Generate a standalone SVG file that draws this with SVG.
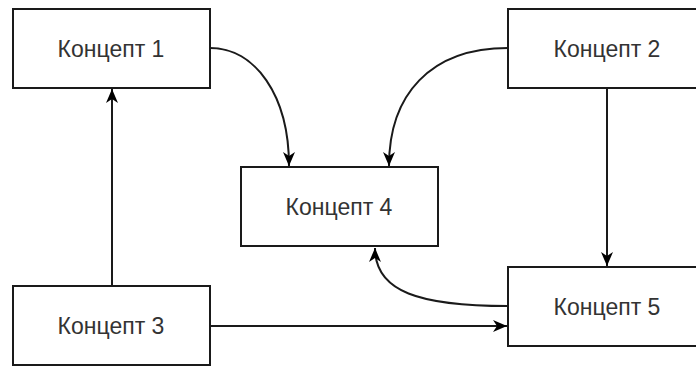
<svg xmlns="http://www.w3.org/2000/svg" width="696" height="367" viewBox="0 0 696 367">
  <style>
    .box { fill: #ffffff; stroke: #1a1a1a; stroke-width: 2; }
    .lbl { font-family: "Liberation Sans", Arial, sans-serif; font-size: 23px; fill: #333333; text-anchor: middle; }
    .edge { fill: none; stroke: #1a1a1a; stroke-width: 2; marker-end: url(#arrow); }
  </style>
  <defs>
    <marker id="arrow" viewBox="0 0 14 12" refX="14" refY="6" markerWidth="14" markerHeight="12" markerUnits="userSpaceOnUse" orient="auto">
      <path d="M0,0 L14,6 L0,12 L4,6 Z" fill="#000000"/>
    </marker>
  </defs>
  <rect width="696" height="367" fill="#ffffff"/>
  <g id="connectors">
    <path class="edge" d="M210,48 C255,48 289,95 289,166"/>
    <path class="edge" d="M508,48 C430,48 389,95 389,166"/>
    <path class="edge" d="M607,88 L607,266"/>
    <path class="edge" d="M508,306 C420,306 375,292 375,248"/>
    <path class="edge" d="M210,326 L507,326"/>
    <path class="edge" d="M112,286 L112,89"/>
  </g>
  <g id="node1">
    <rect class="box" x="13" y="9" width="197" height="79"/>
    <text class="lbl" x="111" y="57">Концепт 1</text>
  </g>
  <g id="node2">
    <rect class="box" x="508" y="9" width="197" height="79"/>
    <text class="lbl" x="607" y="57">Концепт 2</text>
  </g>
  <g id="node4">
    <rect class="box" x="241" y="167" width="197" height="79"/>
    <text class="lbl" x="339" y="215">Концепт 4</text>
  </g>
  <g id="node5">
    <rect class="box" x="508" y="267" width="197" height="79"/>
    <text class="lbl" x="607" y="315">Концепт 5</text>
  </g>
  <g id="node3">
    <rect class="box" x="13" y="286" width="197" height="79"/>
    <text class="lbl" x="111" y="334">Концепт 3</text>
  </g>
</svg>
